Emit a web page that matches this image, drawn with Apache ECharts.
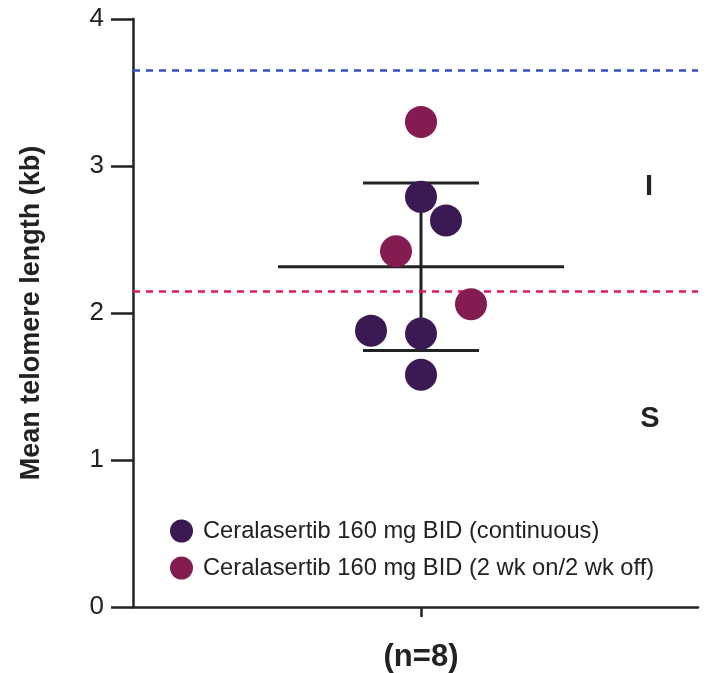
<!DOCTYPE html>
<html>
<head>
<meta charset="utf-8">
<script src="https://cdn.jsdelivr.net/npm/echarts@6/dist/echarts.min.js"></script>
<style>html,body{margin:0;padding:0;background:#fff}#c{width:714px;height:673px}</style>
</head>
<body>
<div id="c"></div>
<script>
// Data
const seriesNames = ['Ceralasertib 160 mg BID (continuous)', 'Ceralasertib 160 mg BID (2 wk on/2 wk off)'];
const contJitter = [0, 1, -2, 0, 0];
const contValues = [2.79, 2.63, 1.88, 1.86, 1.58];
const onoffJitter = [0, -1, 2];
const onoffValues = [3.30, 2.42, 2.06];
const meanValue = 2.315;
const sdUpper = 2.885;
const sdLower = 1.745;
const refUpper = 3.65;
const refLower = 2.145;
const groupLabel = '(n=8)';
const yTicks = [0, 1, 2, 3, 4];
const zoneLabels = [{text: 'I', x: 9.12, y: 2.86}, {text: 'S', x: 9.16, y: 1.28}];

const FONT = 'Liberation Sans, Arial, Helvetica, sans-serif';
const chart = echarts.init(document.getElementById('c'));
const colors = ['#3b1a53', '#841c52'];

const option = {
  animation: false,
  backgroundColor: '#fff',
  grid: {left: 133, right: 16, top: 19, bottom: 63, containLabel: false},
  legend: {
    orient: 'vertical', left: 165, top: 513,
    itemWidth: 23, itemHeight: 23, itemGap: 11,
    icon: 'circle',
    textStyle: {fontFamily: FONT, fontSize: 23.7, color: '#222', lineHeight: 26, padding: [0, 0, 0, 5]},
    data: seriesNames
  },
  xAxis: {
    type: 'value', min: -11.52, max: 11.08,
    splitLine: {show: false},
    axisLine: {onZero: false, lineStyle: {color: '#222', width: 2.5}},
    axisTick: {show: true, customValues: [0], length: 10, lineStyle: {color: '#222', width: 2.5}},
    axisLabel: {show: true, customValues: [0], formatter: () => groupLabel, margin: 35,
      fontFamily: FONT, fontSize: 31, fontWeight: 'bold', color: '#222'}
  },
  yAxis: {
    type: 'value', min: 0, max: 4, interval: 1,
    name: 'Mean telomere length (kb)', nameLocation: 'middle', nameGap: 88,
    nameTextStyle: {fontFamily: FONT, fontSize: 27, fontWeight: 'bold', color: '#222'},
    splitLine: {show: false},
    axisLine: {show: true, onZero: false, lineStyle: {color: '#222', width: 2.5}},
    axisTick: {show: true, length: 22, lineStyle: {color: '#222', width: 2.5}},
    axisLabel: {fontFamily: FONT, fontSize: 26, color: '#222', margin: 29,
      formatter: v => yTicks.includes(v) ? String(v) : ''}
  },
  series: [
    {
      type: 'line', silent: true, data: [], symbol: 'none',
      markLine: {
        silent: true, symbol: 'none', label: {show: false},
        data: [
          {yAxis: refUpper, lineStyle: {color: '#3550c0', type: [7, 6], width: 2.5}},
          {yAxis: refLower, lineStyle: {color: '#e0195f', type: [7, 6], width: 2.5}}
        ]
      },
      markPoint: {
        symbol: 'circle', symbolSize: 0,
        label: {show: true, fontFamily: FONT, fontSize: 29, fontWeight: 'bold', color: '#222',
          formatter: p => p.name},
        data: zoneLabels.map(z => ({name: z.text, coord: [z.x, z.y]}))
      }
    },
    {
      type: 'custom', silent: true, z: 3,
      data: [[0, meanValue, sdLower, sdUpper]],
      renderItem: function (params, api) {
        const c = api.coord([api.value(0), api.value(1)]);
        const lo = api.coord([api.value(0), api.value(2)]);
        const hi = api.coord([api.value(0), api.value(3)]);
        const st = {stroke: '#222', lineWidth: 3};
        return {type: 'group', children: [
          {type: 'line', shape: {x1: c[0] - 143, y1: c[1], x2: c[0] + 143, y2: c[1]}, style: st},
          {type: 'line', shape: {x1: c[0], y1: hi[1], x2: c[0], y2: lo[1]}, style: st},
          {type: 'line', shape: {x1: c[0] - 58, y1: hi[1], x2: c[0] + 58, y2: hi[1]}, style: st},
          {type: 'line', shape: {x1: c[0] - 58, y1: lo[1], x2: c[0] + 58, y2: lo[1]}, style: st}
        ]};
      }
    },
    {
      name: seriesNames[0], type: 'scatter', z: 5, symbolSize: 32,
      itemStyle: {color: colors[0], opacity: 1},
      data: contValues.map((v, i) => [contJitter[i], v])
    },
    {
      name: seriesNames[1], type: 'scatter', z: 5, symbolSize: 32,
      itemStyle: {color: colors[1], opacity: 1},
      data: onoffValues.map((v, i) => [onoffJitter[i], v])
    }
  ]
};
chart.setOption(option);
</script>
</body>
</html>
